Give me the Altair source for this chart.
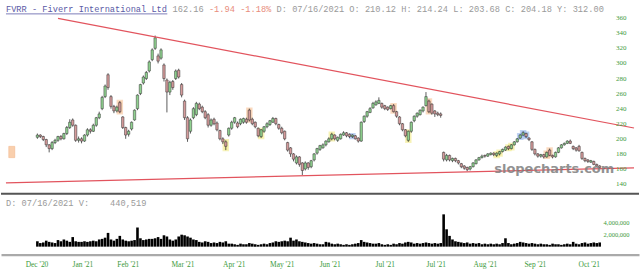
import json
import altair as alt
import pandas as pd

# ---------------- data ----------------
opens = [202,205,203,199,192,187,195,198,203,200,
         207,215,225,218,198,200,197,205,212,210,
         218,228,240,256,285,256,243,237,248,229,
         215,206,213,225,240,260,274,280,290,305,
         320,310,307,298,278,262,276,280,291,272,
         250,228,210,228,232,246,242,236,232,218,
         226,221,211,200,196,205,214,222,221,220,
         222,226,238,226,222,214,203,210,216,219,
         222,227,219,214,210,195,188,180,168,176,
         168,160,168,163,172,181,186,188,192,196,
         200,205,198,200,205,208,206,203,204,201,
         197,223,230,235,241,245,247,247,244,242,
         240,244,236,229,220,212,198,210,224,230,
         232,237,244,250,246,237,234,233,182,172,
         178,171,174,171,167,164,162,160,163,167,
         172,175,178,177,179,181,178,180,183,185,
         190,187,192,196,201,205,207,201,196,186,
         180,177,179,176,185,178,176,182,188,192,
         194,197,190,188,190,182,174,172,169,170,
         166,164]
closes = [205,203,199,192,187,195,198,203,200,207,
          215,222,218,198,200,197,205,212,210,218,
          228,233,255,270,268,243,237,242,236,215,
          205,210,222,238,258,272,282,288,302,318,
          334,303,318,280,262,275,268,290,282,258,
          228,200,225,240,247,240,236,228,218,225,
          220,212,200,196,190,214,222,228,216,226,
          227,222,225,220,216,204,212,216,220,224,
          227,220,214,208,200,185,180,173,176,166,
          158,168,162,171,180,187,191,192,197,200,
          206,200,202,206,208,204,203,205,200,197,
          222,230,236,240,247,249,251,242,240,239,
          244,236,230,220,212,204,210,222,230,234,
          238,242,256,236,234,233,232,231,173,178,
          172,174,171,168,163,161,159,163,168,172,
          175,177,177,180,181,179,181,183,186,189,
          187,192,196,200,205,208,203,199,186,180,
          177,179,176,182,178,176,182,188,192,194,
          197,194,187,185,184,174,171,170,171,166,
          164,162]
highs = [207,206,204,200,193,197,200,204,205,208,
         217,226,227,219,203,202,206,214,214,220,
         229,236,257,272,287,258,245,244,250,230,
         216,212,223,239,259,273,284,290,304,320,
         337,313,320,300,280,277,278,292,293,274,
         252,230,227,242,249,248,244,238,234,227,
         228,223,212,202,198,215,224,229,223,227,
         228,228,240,228,223,215,213,217,222,225,
         229,228,220,216,211,196,189,181,178,177,
         169,170,169,172,181,188,192,194,198,202,
         208,206,203,207,210,209,207,206,205,202,
         223,231,237,242,249,251,255,248,245,243,
         245,246,237,230,221,213,211,223,231,235,
         239,243,262,252,247,238,236,235,183,180,
         179,175,175,172,168,165,163,164,169,173,
         176,179,179,181,182,182,182,184,187,190,
         191,193,197,201,206,210,208,202,197,187,
         181,180,180,183,187,179,183,189,193,195,
         198,199,191,189,192,183,175,173,172,171,
         167,165]
lows = [200,201,197,189,182,185,193,196,198,199,
        205,213,216,196,195,194,196,203,207,209,
        216,226,238,254,265,240,234,235,234,213,
        200,203,211,224,238,258,272,278,288,303,
        318,300,305,276,235,258,265,278,280,255,
        225,196,207,226,230,238,234,226,215,216,
        218,210,198,193,185,203,212,220,214,218,
        220,220,223,218,214,202,201,208,214,217,
        221,218,212,206,198,183,176,170,166,163,
        152,158,159,161,170,179,184,187,190,195,
        198,198,196,199,204,202,201,201,199,195,
        196,221,228,234,240,244,246,240,238,237,
        239,235,228,218,210,202,196,208,222,228,
        231,235,243,234,232,229,230,228,170,170,
        170,169,169,166,161,159,157,158,162,166,
        171,174,175,176,178,177,176,178,182,184,
        185,186,191,195,200,204,201,197,184,178,
        175,175,174,175,177,174,175,181,187,191,
        193,193,185,183,183,172,169,168,168,165,
        163,161]
# volume in millions of shares
volumes_m = [0.9,0.6,0.7,1.0,0.8,0.7,0.6,1.1,0.9,1.2,1.0,0.8,1.6,0.9,0.8,0.8,
             0.9,0.8,0.9,1.0,0.9,1.2,1.3,1.5,2.3,1.2,1.0,1.3,1.8,1.2,1.0,
             0.9,1.0,1.1,3.2,1.4,1.1,1.2,1.3,1.3,1.4,1.6,1.3,1.9,1.7,1.2,1.0,1.2,1.7,2.0,
             1.9,1.7,1.5,1.2,1.1,0.8,0.7,0.9,0.8,0.6,0.7,0.6,0.8,0.7,0.9,0.5,0.5,
             0.4,0.3,0.5,0.4,0.4,0.6,0.5,0.4,0.3,0.4,0.5,0.4,0.6,0.7,0.9,0.8,
             0.9,1.0,0.9,1.5,1.0,1.2,0.9,0.8,0.7,0.6,0.5,0.6,0.5,0.4,0.4,0.8,0.7,
             0.5,0.4,0.5,0.4,0.3,0.4,0.3,0.4,0.5,0.6,1.1,0.8,0.7,0.6,0.5,0.5,0.6,0.4,0.3,
             0.4,0.3,0.5,0.4,0.6,0.5,0.7,0.8,0.7,0.5,0.6,0.5,0.6,0.7,0.6,0.5,0.6,0.5,0.6,
             5.4,2.9,1.8,1.2,0.9,0.8,0.7,0.6,0.7,0.5,0.6,0.5,0.6,0.4,0.5,0.4,0.5,0.4,0.5,0.4,
             0.6,1.4,0.6,0.4,0.5,0.6,0.8,0.7,0.6,0.5,0.6,0.5,0.4,0.5,0.4,0.4,0.3,0.5,0.4,
             0.4,0.3,0.4,0.5,0.4,0.8,0.5,0.4,0.6,0.7,0.5,0.6,0.7,0.6,0.7]

orange_idx = [28, 72, 121, 133, 173, 174]
yellow_idx = [64, 76, 100, 126, 156, 157, 160, 161]
blue_idx = [107, 164, 165, 166]

x_tick_pos = [-0.3, 15.3, 30.7, 49.3, 66.7, 83, 99.3, 118, 135.3, 152, 169, 187.3]
x_tick_labels = ["Dec '20", "Jan '21", "Feb '21", "Mar '21", "Apr '21", "May '21",
                 "Jun '21", "Jul '21", "Jul '21", "Aug '21", "Sep '21", "Oct '21"]
price_ticks = [140, 160, 180, 200, 220, 240, 260, 280, 300, 320, 340, 360]
vol_ticks = [2, 4]

# trend lines (index, price) end points
trend_x = [7, -10.67]
trend_y = [359.8, 141.6]
trend_x2 = [202.67, 202.67]
trend_y2 = [214.3, 161.4]

# small marker box at far left
marker_x = [-8.7]
marker_hi = [190]
marker_lo = [175]

header_title = "FVRR - Fiverr International Ltd"
header_last = "162.16"
header_chg = "-1.94"
header_pct = "-1.18%"
header_rest = "D: 07/16/2021 O: 210.12 H: 214.24 L: 203.68 C: 204.18 Y: 312.00"
vol_caption = "D: 07/16/2021 V:"
vol_value = "440,519"
watermark = "slopecharts.com"

# ---------------- frames ----------------
N = len(opens)
df = pd.DataFrame({
    "i": list(range(N)), "open": opens, "close": closes,
    "high": highs, "low": lows, "vol": volumes_m,
})
df["dir"] = ["up" if c >= o else "down" for o, c in zip(opens, closes)]

hl_rows = []
for kind, lst in (("orange", orange_idx), ("yellow", yellow_idx), ("blue", blue_idx)):
    for k in lst:
        hl_rows.append({"i": k, "high": highs[k], "low": lows[k], "kind": kind})
hl = pd.DataFrame(hl_rows)

trend = pd.DataFrame({"x": trend_x, "y": trend_y, "x2": trend_x2, "y2": trend_y2})
marker = pd.DataFrame({"x": marker_x, "hi": marker_hi, "lo": marker_lo})
pticks = pd.DataFrame({"p": price_ticks, "t": [str(v) for v in price_ticks]})

W = 640
XS = alt.Scale(domain=[-10.667, 202.667], nice=False, zero=False)
YS = alt.Scale(domain=[125.7, 383.6], nice=False, zero=False)
VS = alt.Scale(domain=[-1.333, 8.667], nice=False, zero=False)

MONO = "Liberation Mono"
FS = 8.7
CW = 0.6 * FS
GREEN = "#3c9a3c"

one = pd.DataFrame({"a": [0]})

def txt(s, x, y, color, size=FS, font=MONO, **kw):
    return alt.Chart(one).mark_text(
        text=s, align="left", baseline="middle", font=font, fontSize=size,
        color=color, **kw
    ).encode(x=alt.value(x), y=alt.value(y))

# ---------------- price panel ----------------
HL_SCALE = alt.Scale(domain=["orange", "yellow", "blue"], range=["#f7bf93", "#f2ea84", "#8fb2e8"])
hl_layer = alt.Chart(hl).mark_bar(size=4, opacity=0.75, strokeWidth=2.5, strokeOpacity=0.75).encode(
    x=alt.X("i:Q", scale=XS, axis=None),
    y=alt.Y("high:Q", scale=YS, axis=None),
    y2="low:Q",
    color=alt.Color("kind:N", scale=HL_SCALE, legend=None),
    stroke=alt.Stroke("kind:N", scale=HL_SCALE, legend=None),
)

marker_layer = alt.Chart(marker).mark_bar(size=6, fill="#f9cfad", stroke="#f3b98e", strokeWidth=0.6).encode(
    x=alt.X("x:Q", scale=XS, axis=None),
    y=alt.Y("hi:Q", scale=YS, axis=None),
    y2="lo:Q",
)

wicks = alt.Chart(df).mark_rule(color="#333333", strokeWidth=0.8).encode(
    x=alt.X("i:Q", scale=XS, axis=None),
    y=alt.Y("low:Q", scale=YS, axis=None),
    y2="high:Q",
)

bodies = alt.Chart(df).mark_bar(size=2.4, stroke="#333333", strokeWidth=0.5).encode(
    x=alt.X("i:Q", scale=XS, axis=None),
    y=alt.Y("open:Q", scale=YS, axis=None),
    y2="close:Q",
    fill=alt.Fill("dir:N", scale=alt.Scale(domain=["up", "down"], range=["#8fd18f", "#d49a9a"]),
                  legend=None),
)

ylabels = alt.Chart(pticks).mark_text(
    align="left", baseline="middle", font="Liberation Serif", fontSize=7, color=GREEN
).encode(y=alt.Y("p:Q", scale=YS, axis=None), x=alt.value(617), text="t:N")

trend_layer = alt.Chart(trend).mark_rule(color="#e2545e", strokeWidth=1.2, clip=True).encode(
    x=alt.X("x:Q", scale=XS, axis=None),
    y=alt.Y("y:Q", scale=YS, axis=None),
    x2="x2:Q",
    y2="y2:Q",
)

wm = alt.Chart(one).mark_text(
    text=watermark, align="center", baseline="middle", font="DejaVu Sans",
    fontSize=13, fontWeight="bold", color="#808080", opacity=0.85,
).encode(x=alt.value(555), y=alt.value(169))

sep_top = alt.Chart(one).mark_rule(color="#555555", strokeWidth=2).encode(
    x=alt.value(0), x2=alt.value(W), y=alt.value(194))

underline = alt.Chart(one).mark_rule(color="#5a5aa6", strokeWidth=0.8).encode(
    x=alt.value(5), x2=alt.value(5 + len(header_title) * CW), y=alt.value(13.5))

header = (
    txt(header_title, 5, 8.5, "#5a5aa6")
    + txt(header_last, 5 + 32 * CW, 8.5, "#9a9a9a")
    + txt(header_chg, 5 + 39 * CW, 8.5, "#e88c7c")
    + txt(header_pct, 5 + 45 * CW, 8.5, "#e88c7c")
    + txt(header_rest, 5 + 52 * CW, 8.5, "#9a9a9a")
)

price = alt.layer(
    marker_layer, hl_layer, wicks, bodies, trend_layer, ylabels, wm, sep_top, underline, header
).resolve_scale(color="independent", fill="independent", stroke="independent").properties(
    width=W, height=195)

# ---------------- volume panel ----------------
label_expr = "{}[indexof({}, datum.value)]".format(json.dumps(x_tick_labels), json.dumps(x_tick_pos))

vbars = alt.Chart(df).mark_bar(size=2.6, color="#000000").encode(
    x=alt.X("i:Q", scale=XS, title=None,
            axis=alt.Axis(values=x_tick_pos, labelExpr=label_expr, domainColor="#aaaaaa",
                          domainWidth=2.5, ticks=False, grid=False, labelPadding=6,
                          labelFlush=False, labelOverlap=False, labelColor=GREEN,
                          labelFont="Liberation Serif", labelFontSize=7.5)),
    y=alt.Y("vol:Q", scale=VS, title=None,
            axis=alt.Axis(orient="right", values=vol_ticks, offset=-36, domain=False,
                          ticks=False, grid=False, labelPadding=0, labelAlign="left",
                          labelOverlap=False, labelFlush=False,
                          labelExpr="format(datum.value*1000000, ',')",
                          labelColor=GREEN, labelFont="Liberation Serif", labelFontSize=6.5)),
    y2=alt.datum(0),
)

vtext = txt(vol_caption, 5, 8, "#9a9a9a") + txt(vol_value, 5 + 20 * CW, 8, "#9a9a9a")

volume = alt.layer(vbars, vtext).properties(width=W, height=60)

chart = alt.vconcat(price, volume, spacing=0).properties(
    padding=0, background="white"
).configure_view(stroke=None)

chart.save("out.html", embed_options={"renderer": "svg", "actions": False})
